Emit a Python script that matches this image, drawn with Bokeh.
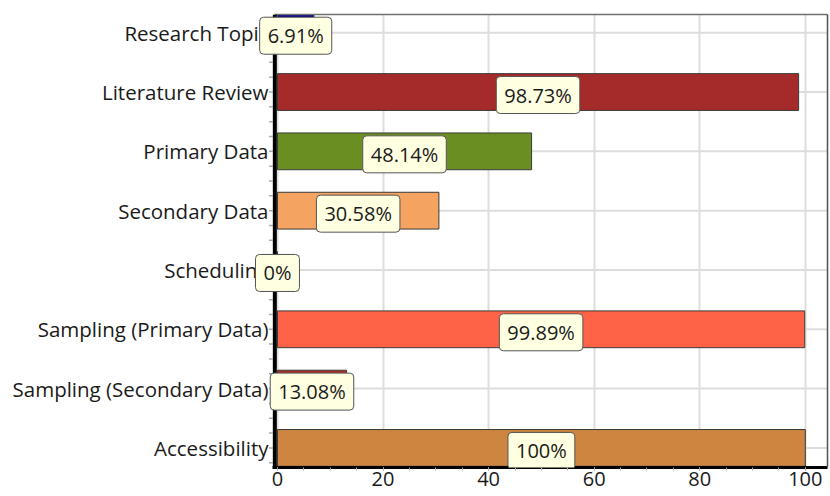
from bokeh.plotting import figure
from bokeh.models import Range1d, FixedTicker, Label, ColumnDataSource, Span, LinearAxis
from bokeh.embed import file_html
from bokeh.resources import INLINE

categories = ["Research Topic", "Literature Review", "Primary Data", "Secondary Data",
              "Scheduling", "Sampling (Primary Data)", "Sampling (Secondary Data)", "Accessibility"]
values = [6.91, 98.73, 48.14, 30.58, 0, 99.89, 13.08, 100]
colors = ["#00008B", "#A52A2A", "#6B8E23", "#F4A460", "#4682B4", "#FF6347", "#A8302A", "#CD853F"]
x_ticks = [0, 20, 40, 60, 80, 100]

n = len(categories)
ypos = [n - 1 - i for i in range(n)]
labels = [f"{v:g}%" for v in values]

FONT = "Open Sans"
X0, X1 = -5.11, 104.2
Y0, Y1 = -0.33, 7.307
AX = -0.5  # where the vertical axis line sits

src = ColumnDataSource(dict(y=ypos, value=values, color=colors, half=[v / 2 for v in values]))
grid_src = ColumnDataSource(dict(y=ypos, x0=[AX] * n, x1=[X1] * n))
minor_y = [k / 4 for k in range(-1, 4 * n + 1) if Y0 <= k / 4 <= Y1]
tick_src = ColumnDataSource(dict(y=minor_y, x0=[AX - 1.1] * len(minor_y), x1=[AX - 0.4] * len(minor_y)))

p = figure(width=830, height=496, x_range=Range1d(X0, X1), y_range=Range1d(Y0, Y1),
           output_backend="svg", toolbar_location=None,
           min_border_left=250, min_border_right=3, min_border_top=14, min_border_bottom=29)
p.outline_line_color = None

# horizontal grid lines starting at the axis
p.ygrid.visible = False
p.segment(x0="x0", x1="x1", y0="y", y1="y", line_color="#DDDDDD", line_width=2, source=grid_src)
# small ticks left of the vertical axis
p.segment(x0="x0", x1="x1", y0="y", y1="y", line_color="#AAAAAA", line_width=1.5, source=tick_src)

p.hbar(y="y", left=0, right="value", height=0.62, fill_color="color", line_color="#3a3a3a",
       line_width=1, source=src)

# y axis (labels only; line drawn as a span at the zero position)
p.yaxis.ticker = FixedTicker(ticks=ypos)
p.yaxis.major_label_overrides = {y: c for y, c in zip(ypos, categories)}
p.yaxis.axis_line_color = None
p.yaxis.major_tick_line_color = None
p.yaxis.minor_tick_line_color = None
p.yaxis.major_tick_out = 0
p.yaxis.major_tick_in = 0
p.yaxis.major_label_text_font = FONT
p.yaxis.major_label_text_font_size = "20.5px"
p.yaxis.major_label_text_color = "#1a1a1a"
p.yaxis.major_label_standoff = -18

p.add_layout(Span(location=AX, dimension="height", line_color="black", line_width=4))

# x axis
p.xaxis.ticker = FixedTicker(ticks=x_ticks, minor_ticks=list(range(0, 101, 5)))
p.xaxis.bounds = (AX - 0.4, X1)
p.xaxis.axis_line_width = 3
p.xaxis.axis_line_color = "black"
p.xaxis.major_tick_line_color = "#AAAAAA"
p.xaxis.major_tick_in = 0
p.xaxis.major_tick_out = 3
p.xaxis.minor_tick_line_color = "#AAAAAA"
p.xaxis.minor_tick_in = 0
p.xaxis.minor_tick_out = 3
p.xaxis.major_label_text_font = FONT
p.xaxis.major_label_text_font_size = "20px"
p.xaxis.major_label_text_color = "#1a1a1a"
p.xaxis.major_label_standoff = 1

# top and right borders (axis lines only, no ticks or labels)
top = LinearAxis(bounds=(AX, X1), ticker=FixedTicker(ticks=[]),
                 axis_line_color="#707070", axis_line_width=1.5,
                 major_tick_line_color=None, minor_tick_line_color=None,
                 major_tick_out=0, major_label_standoff=0)
p.add_layout(top, "above")
right = LinearAxis(ticker=FixedTicker(ticks=[]),
                   axis_line_color="#505050", axis_line_width=1.5,
                   major_tick_line_color=None, minor_tick_line_color=None,
                   major_tick_out=0, major_label_standoff=0)
p.add_layout(right, "right")

p.xgrid.grid_line_color = "#DDDDDD"
p.xgrid.grid_line_width = 2

for y, h, t in zip(ypos, src.data["half"], labels):
    shadow = Label(x=h, y=y, text=t, text_align="center", text_baseline="middle",
                   x_offset=3, y_offset=-6, text_font=FONT, text_font_size="20px",
                   text_alpha=0, background_fill_color="#000000", background_fill_alpha=0.3,
                   padding=(8, 5), border_radius=4)
    lab = Label(x=h, y=y, text=t, text_align="center", text_baseline="middle",
                x_offset=0, y_offset=-3, text_font=FONT, text_font_size="20px",
                text_color="#1a1a1a", background_fill_color="#FFFFE1",
                border_line_color="#555555", border_line_width=1,
                padding=(8, 5), border_radius=4)
    p.add_layout(shadow)
    p.add_layout(lab)

open("out.html", "w").write(file_html(p, INLINE))
